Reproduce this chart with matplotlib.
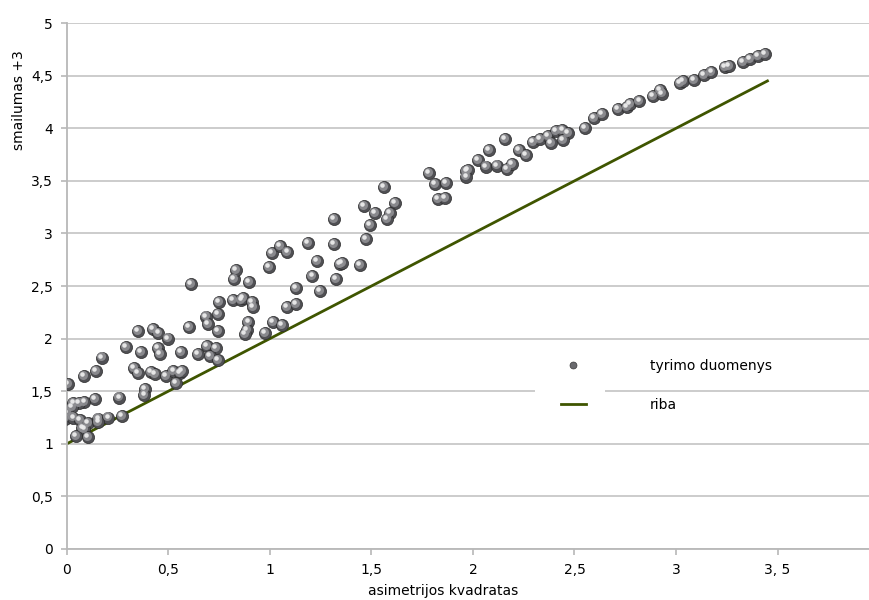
import matplotlib
matplotlib.use("Agg")
import matplotlib.pyplot as plt
import matplotlib.transforms as mtransforms
from matplotlib.patches import Rectangle
from matplotlib.lines import Line2D

# asimetrijos kvadratas (x) ir smailumas +3 (y), nuskaityta nuo paveikslo
x_data = [0.005, 0.085, 0.143, 0.172, 0.29, 0.366, 0.45, 0.46, 0.50, 0.5625,
          0.33, 0.352, 0.415, 0.435, 0.489, 0.525, 0.557, 0.566, 0.538, 0.385,
          0.382, 0.139, 0.259, 0.087, 0.061, 0.033, 0.025, 0.0, -0.008, 0.033,
          0.065, 0.106, 0.156, 0.205, 0.156, 0.27, 0.077, 0.087, 0.044, 0.103,
          0.351, 0.423, 0.451, 0.613, 0.603, 0.684, 0.694, 0.746, 0.75, 0.746,
          0.645, 0.689, 0.734, 0.705, 0.743, 0.825, 0.833, 0.898, 0.82, 0.86,
          0.868, 0.91, 0.918, 0.894, 0.886, 0.877, 0.976, 1.017, 1.058, 1.083,
          1.128, 1.128, 1.009, 1.086, 0.997, 1.21, 1.247, 1.324, 1.23, 1.345,
          1.05, 1.189, 1.314, 1.314, 1.443, 1.356,
          1.561, 1.465, 1.517, 1.616, 1.59, 1.577, 1.493, 1.471,
          1.785, 1.812, 1.865, 1.829, 1.862, 1.968, 1.976, 1.968, 2.026, 2.063,
          2.08, 2.116, 2.158, 2.168, 2.19, 2.227, 2.259, 2.296, 2.33, 2.37,
          2.384, 2.41, 2.44, 2.468, 2.443, 2.551, 2.595, 2.633, 2.714, 2.758,
          2.772, 2.82, 2.886, 2.922, 2.932, 3.018, 3.034, 3.087, 3.138, 3.174,
          3.24, 3.26, 3.33, 3.363, 3.404, 3.436]
y_data = [1.57, 1.645, 1.69, 1.82, 1.92, 1.875, 1.91, 1.85, 2.0, 1.87,
          1.72, 1.675, 1.685, 1.66, 1.645, 1.695, 1.67, 1.69, 1.58, 1.52,
          1.465, 1.425, 1.44, 1.395, 1.385, 1.385, 1.35, 1.296, 1.24, 1.25,
          1.226, 1.195, 1.24, 1.25, 1.21, 1.264, 1.147, 1.138, 1.077, 1.067,
          2.07, 2.09, 2.05, 2.516, 2.11, 2.21, 2.14, 2.23, 2.35, 2.07,
          1.85, 1.93, 1.91, 1.835, 1.797, 2.567, 2.65, 2.535, 2.367, 2.367,
          2.383, 2.345, 2.297, 2.155, 2.08, 2.044, 2.05, 2.16, 2.13, 2.30,
          2.33, 2.478, 2.817, 2.826, 2.683, 2.595, 2.452, 2.564, 2.74, 2.71,
          2.88, 2.906, 3.134, 2.90, 2.70, 2.716,
          3.444, 3.26, 3.19, 3.286, 3.19, 3.14, 3.08, 2.95,
          3.577, 3.47, 3.48, 3.324, 3.334, 3.593, 3.603, 3.54, 3.70, 3.635,
          3.79, 3.645, 3.895, 3.61, 3.657, 3.79, 3.745, 3.87, 3.90, 3.926,
          3.856, 3.976, 3.983, 3.957, 3.888, 4.0, 4.094, 4.135, 4.183, 4.205,
          4.23, 4.26, 4.306, 4.363, 4.33, 4.43, 4.45, 4.458, 4.506, 4.537,
          4.58, 4.59, 4.63, 4.655, 4.686, 4.705]

# riba: y = x + 1
riba_x = [0, 3.45]
riba_y = [1, 4.45]

x_ticks = [0, 0.5, 1, 1.5, 2, 2.5, 3, 3.5]
x_tick_labels = ["0", "0,5", "1", "1,5", "2", "2,5", "3", "3, 5"]
y_ticks = [0, 0.5, 1, 1.5, 2, 2.5, 3, 3.5, 4, 4.5, 5]
y_tick_labels = ["0", "0,5", "1", "1,5", "2", "2,5", "3", "3,5", "4", "4,5", "5"]

fig = plt.figure(figsize=(8.69, 6.0), dpi=100)
ax = fig.add_axes([0.0768, 0.085, 0.9232, 0.8765])

ax.set_xlim(0, 3.95)
ax.set_ylim(0, 5)

grid_col = "#c3c3c3"
ax.set_axisbelow(True)
ax.yaxis.grid(True, color=grid_col, linewidth=1.2)
for s in ["top", "right"]:
    ax.spines[s].set_visible(False)
for s in ["left", "bottom"]:
    ax.spines[s].set_color("#b8b8b8")
    ax.spines[s].set_linewidth(1.3)

ax.set_xticks(x_ticks)
ax.set_xticklabels(x_tick_labels, fontsize=10)
ax.set_yticks(y_ticks)
ax.set_yticklabels(y_tick_labels, fontsize=10)
ax.tick_params(axis="both", direction="out", length=4, width=1.2,
               color="#b8b8b8", labelcolor="black")
ax.tick_params(axis="x", pad=6)
ax.tick_params(axis="y", pad=6)

ax.set_xlabel("asimetrijos kvadratas", fontsize=10)
ax.xaxis.set_label_coords(0.469, -0.066)
ax.set_ylabel("smailumas +3", fontsize=10)
ax.yaxis.set_label_coords(-0.051, 0.853)

# riba
ax.plot(riba_x, riba_y, color="#3f5500", linewidth=2.0, zorder=2)

# rutuliukai (3D efektas keliais sluoksniais)
ms = 76
ax.scatter(x_data, y_data, s=ms, color="#505054", edgecolors="#2a2a2a",
           linewidths=0.5, zorder=3)
off1 = mtransforms.ScaledTranslation(-1.0 / 100, 1.2 / 100, fig.dpi_scale_trans)
ax.scatter(x_data, y_data, s=ms * 0.55, color="#909094", linewidths=0,
           alpha=0.9, zorder=4, transform=ax.transData + off1)
off2 = mtransforms.ScaledTranslation(-1.8 / 100, 2.0 / 100, fig.dpi_scale_trans)
ax.scatter(x_data, y_data, s=ms * 0.14, color="#ececec", linewidths=0,
           alpha=0.95, zorder=5, transform=ax.transData + off2)

# legenda
ax.add_patch(Rectangle((0.584, 0.25), 0.087, 0.09, transform=ax.transAxes,
                       facecolor="white", edgecolor="none", zorder=1))
handles = [
    Line2D([], [], linestyle="none", marker="o", markersize=5,
           markerfacecolor="#6a6a6e", markeredgecolor="#3a3a3a",
           markeredgewidth=0.5),
    Line2D([], [], color="#3f5500", linewidth=2.0),
]
ax.legend(handles, ["tyrimo duomenys", "riba"], loc="center left",
          bbox_to_anchor=(0.6375, 0.3575), bbox_transform=fig.transFigure,
          frameon=False, fontsize=10, borderpad=0, handlelength=1.8,
          handletextpad=4.6, labelspacing=1.8)

fig.savefig("out.png", dpi=100)
